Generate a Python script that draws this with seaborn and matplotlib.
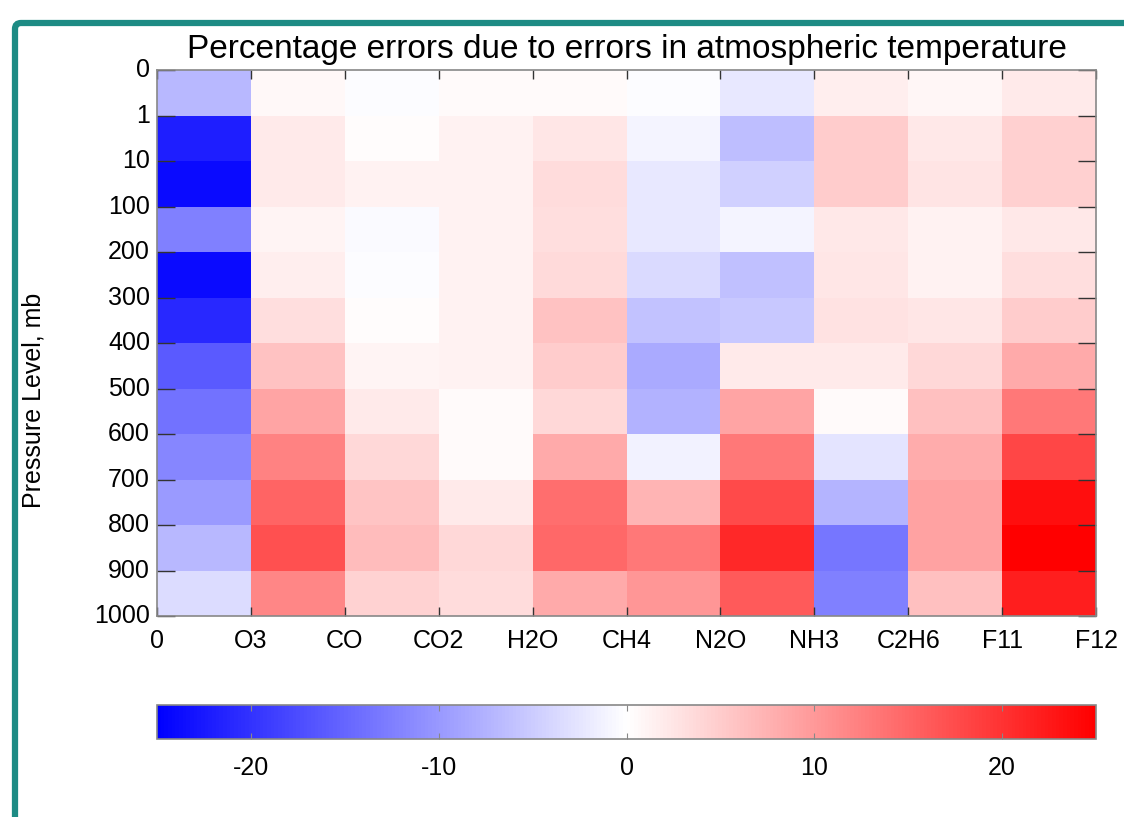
import numpy as np
import pandas as pd
import seaborn as sns
import matplotlib.pyplot as plt
from matplotlib.patches import FancyBboxPatch

# Data (percentage error)
gases = ['O3', 'CO', 'CO2', 'H2O', 'CH4', 'N2O', 'NH3', 'C2H6', 'F11', 'F12']
level_labels = ['0', '1', '10', '100', '200', '300', '400', '500',
                '600', '700', '800', '900', '1000']

o3 = [-7.0, -21.9, -24.0, -12.5, -24.0, -21.0, -16.2, -13.7, -11.8, -9.8, -6.9, -3.4]
co = [0.7, 2.0, 2.0, 1.0, 1.7, 3.2, 5.9, 8.8, 12.3, 15.2, 17.0, 11.8]
co2 = [-0.3, 0.2, 1.3, -0.5, -0.3, 0.3, 1.0, 2.0, 3.9, 5.7, 6.6, 4.4]
h2o = [0.5, 1.2, 1.2, 1.2, 1.2, 1.2, 1.2, 0.5, 0.5, 2.0, 3.9, 3.4]
ch4 = [0.5, 2.5, 3.4, 3.2, 3.6, 5.9, 4.9, 3.9, 8.3, 14.2, 14.7, 8.3]
n2o = [-0.3, -1.0, -2.3, -2.3, -3.6, -5.9, -8.3, -7.5, -1.3, 7.4, 13.2, 10.3]
nh3 = [-2.3, -6.4, -4.6, -1.0, -6.2, -5.4, 2.0, 8.8, 13.2, 17.6, 20.9, 16.2]
c2h6 = [1.7, 4.9, 4.9, 2.3, 2.5, 2.9, 2.0, 0.5, -2.6, -7.4, -13.4, -12.5]
f11 = [0.8, 2.3, 2.6, 1.3, 1.3, 2.5, 3.9, 6.2, 8.1, 9.1, 9.1, 6.2]
f12 = [2.0, 4.6, 4.6, 2.3, 3.2, 4.9, 8.3, 13.2, 18.1, 23.5, 25.0, 22.0]

df = pd.DataFrame({'O3': o3, 'CO': co, 'CO2': co2, 'H2O': h2o, 'CH4': ch4,
                   'N2O': n2o, 'NH3': nh3, 'C2H6': c2h6, 'F11': f11, 'F12': f12})

plt.rcParams['font.family'] = ['Liberation Sans', 'DejaVu Sans']
plt.rcParams['axes.unicode_minus'] = False

fig = plt.figure(figsize=(11.24, 8.17), dpi=100)
ax = fig.add_axes([0.1397, 0.246, 0.8354, 0.668])
cax = fig.add_axes([0.1397, 0.0955, 0.8354, 0.0416])

sns.heatmap(df, ax=ax, cmap='bwr', vmin=-25, vmax=25, cbar_ax=cax,
            cbar_kws={'orientation': 'horizontal', 'ticks': [-20, -10, 0, 10, 20]})

# ticks on cell boundaries
ax.set_xticks(np.arange(len(gases) + 1))
ax.set_xticklabels(['0'] + gases, rotation=0, fontsize=18)
ax.set_yticks(np.arange(len(level_labels)))
ax.set_yticklabels(level_labels, rotation=0, fontsize=18)
ax.tick_params(axis='x', direction='in', length=6.5, width=1, color='#333333',
               top=True, bottom=True, pad=9)
ax.tick_params(axis='y', direction='in', length=13, width=1, color='#333333',
               left=True, right=True, pad=5)
for s in ax.spines.values():
    s.set_visible(True)
    s.set_color('#888888')
    s.set_linewidth(1.2)

ax.set_title('Percentage errors due to errors in atmospheric temperature',
             fontsize=24, pad=9)
ax.set_ylabel('Pressure Level, mb', fontsize=18)
ax.yaxis.set_label_coords(-0.119, 0.396)
ax.set_xlabel('')

# Colorbar
cbar = ax.collections[0].colorbar
cbar.outline.set_edgecolor('#888888')
cbar.outline.set_linewidth(1.2)
cax.tick_params(labelsize=18, direction='in', length=4, top=True,
                color='#888888', pad=12)

# Teal frame
frame = FancyBboxPatch((0.15, -1.0), 12.0, 8.94,
                       boxstyle='round,pad=0,rounding_size=0.06',
                       transform=fig.dpi_scale_trans, fill=False,
                       edgecolor='#1d8b84', linewidth=4.5)
fig.add_artist(frame)

plt.savefig('out.png', dpi=100)
